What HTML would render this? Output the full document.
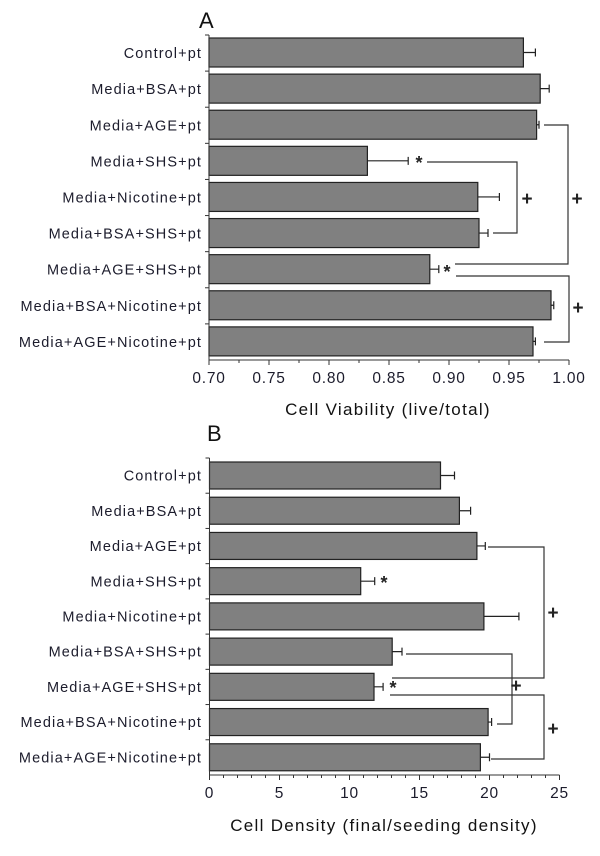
<!DOCTYPE html>
<html><head><meta charset="utf-8"><style>
html,body{margin:0;padding:0;background:#fff;}
svg{display:block;font-family:"Liberation Sans",Arial,sans-serif;}
</style></head><body>
<svg id="chart" width="600" height="856" viewBox="0 0 600 856" xmlns="http://www.w3.org/2000/svg"></svg>
<script>
const categories = ["Control+pt","Media+BSA+pt","Media+AGE+pt","Media+SHS+pt","Media+Nicotine+pt","Media+BSA+SHS+pt","Media+AGE+SHS+pt","Media+BSA+Nicotine+pt","Media+AGE+Nicotine+pt"];
const viabilityValues = [0.962,0.976,0.973,0.832,0.924,0.925,0.884,0.985,0.970];
const viabilityErrors = [0.010,0.0075,0.002,0.034,0.018,0.0075,0.0075,0.0023,0.002];
const viabilityTicks = ["0.70","0.75","0.80","0.85","0.90","0.95","1.00"];
const densityValues = [16.5,17.85,19.1,10.8,19.6,13.05,11.75,19.9,19.35];
const densityErrors = [1.0,0.8,0.6,1.0,2.5,0.7,0.65,0.25,0.65];
const densityTicks = ["0","5","10","15","20","25"];

const NS="http://www.w3.org/2000/svg";
const svg=document.getElementById('chart');
function mk(tag,attrs,parent){const e=document.createElementNS(NS,tag);for(const k in attrs)e.setAttribute(k,attrs[k]);(parent||svg).appendChild(e);return e;}
function txt(s,attrs,parent){const e=mk('text',attrs,parent);e.textContent=s;return e;}

function panel(cfg){
  const g=mk('g',{});
  
  
  const x=v=>cfg.x0+(v-cfg.min)/(cfg.max-cfg.min)*(cfg.x1-cfg.x0);
  const slot=(cfg.yBot-cfg.yTop)/categories.length;
  const t=txt(cfg.letter,{x:cfg.letterX,y:cfg.letterY,'font-size':22,fill:'#111'},g);
  
  
  categories.forEach((c,i)=>{
    const yt=cfg.yTop+slot*i;
    const l=txt(c,{x:202,y:yt+slot/2+5,'font-size':14.5,'letter-spacing':1.1,'text-anchor':'end',fill:'#1c1c2c'},g);
    
    
    mk('line',{x1:cfg.x0-4,x2:cfg.x0,y1:yt,y2:yt,stroke:'#333'},g);
    const v=cfg.values[i],e=cfg.errors[i];
    const by=yt+cfg.barOff;
    const b=mk('rect',{x:cfg.x0,y:by,width:x(v)-cfg.x0,height:cfg.barH,fill:'#808080',stroke:'#222','stroke-width':1.2},g);
    
    
    const cy=by+cfg.barH/2;
    const eb=mk('path',{d:`M${x(v)},${cy}H${x(v+e)}M${x(v+e)},${cy-4}V${cy+4}`,stroke:'#222','stroke-width':1.2,fill:'none'},g);
    
    
  });
  mk('line',{x1:cfg.x0,x2:cfg.x0,y1:cfg.yTop,y2:cfg.yBot,stroke:'#333'},g);
  mk('line',{x1:cfg.x0,x2:cfg.x1,y1:cfg.yBot,y2:cfg.yBot,stroke:'#333'},g);
  cfg.ticks.forEach((s,i)=>{
    const v=parseFloat(s);const px=x(v);
    mk('line',{x1:px,x2:px,y1:cfg.yBot,y2:cfg.yBot+5,stroke:'#333'},g);
    const tl=txt(s,{x:px,y:cfg.yBot+23,'font-size':15.5,'letter-spacing':0.8,'text-anchor':'middle',fill:'#1c1c2c'},g);
    
    
  });
  for(let v=cfg.min;v<=cfg.max+1e-9;v+=cfg.minor){
    const px=x(v);mk('line',{x1:px,x2:px,y1:cfg.yBot,y2:cfg.yBot+3,stroke:'#333'},g);
  }
  const at=txt(cfg.title,{x:cfg.titleX,y:cfg.titleY,'font-size':17,'letter-spacing':1.3,'text-anchor':'middle',fill:'#111'},g);
  
  
  cfg.annot.forEach(a=>{
    if(a.p){const p=mk('polyline',{points:a.p,fill:'none',stroke:'#333','stroke-width':1.2},g);
      }
    if(a.t){const s=txt(a.t,{x:a.x,y:a.y+6,'font-size':a.t==='*'?18:19,'font-weight':'bold','text-anchor':'middle',fill:'#222'},g);
      }
  });
}

panel({name:'panel-a-viability',letter:'A',letterX:199,letterY:28,values:viabilityValues,errors:viabilityErrors,ticks:viabilityTicks,
  min:0.7,max:1.0,minor:0.025,x0:209,x1:569,yTop:35,yBot:360,barOff:3,barH:29,
  title:'Cell Viability (live/total)',titleX:388,titleY:415,
  annot:[
    {p:'544,125 568,125 568,264 455,264'},{t:'+',x:577,y:199},
    {t:'*',x:419,y:163},{p:'427,162 517,162 517,233 493,233'},{t:'+',x:527,y:199},
    {t:'*',x:447,y:272},{p:'456,276 569,276 569,342 544,342'},{t:'+',x:578,y:308}
  ]});
panel({name:'panel-b-density',letter:'B',letterX:207,letterY:441,values:densityValues,errors:densityErrors,ticks:densityTicks,
  min:0,max:25,minor:1,x0:209.5,x1:559.5,yTop:458,yBot:775,barOff:4,barH:27,
  title:'Cell Density (final/seeding density)',titleX:384,titleY:831,
  annot:[
    {p:'488,547 544,547 544,678 392,678'},{t:'+',x:553,y:613},
    {t:'*',x:384,y:583},
    {p:'406,654 512,654 512,724 497,724'},{t:'+',x:516,y:686},
    {t:'*',x:393,y:688},{p:'390,695 544,695 544,759 491,759'},{t:'+',x:553,y:729}
  ]});
</script>
</body></html>
